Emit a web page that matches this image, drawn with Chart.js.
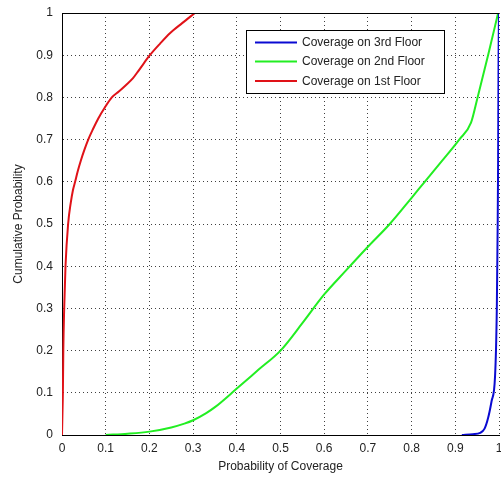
<!DOCTYPE html>
<html>
<head>
<meta charset="utf-8">
<script src="https://cdn.jsdelivr.net/npm/chart.js@4/dist/chart.umd.min.js"></script>
<style>
html,body{margin:0;padding:0;background:#fff;overflow:hidden;}
#wrap{width:501px;height:478px;position:relative;}
</style>
</head>
<body>
<div id="wrap"><canvas id="c" width="501" height="478"></canvas></div>
<script>
// Series data (x = probability of coverage, y = cumulative probability)
const seriesLabels = ['Coverage on 3rd Floor', 'Coverage on 2nd Floor', 'Coverage on 1st Floor'];

const floor3X = [0.915, 0.94, 0.957, 0.967, 0.975, 0.983, 0.991, 0.995, 0.997, 0.998, 0.999, 1.0];
const floor3Y = [0, 0.002, 0.005, 0.015, 0.04, 0.08, 0.14, 0.3, 0.5, 0.65, 0.9, 1.0];

const floor2X = [0.1, 0.15, 0.2, 0.25, 0.28, 0.3, 0.33, 0.35, 0.4, 0.45, 0.5, 0.55, 0.6, 0.65, 0.7, 0.75, 0.8, 0.83, 0.87, 0.909, 0.936, 0.951, 0.975, 0.998];
const floor2Y = [0, 0.003, 0.008, 0.018, 0.027, 0.035, 0.052, 0.066, 0.11, 0.155, 0.2, 0.265, 0.333, 0.39, 0.446, 0.5, 0.562, 0.6, 0.65, 0.7, 0.74, 0.8, 0.9, 1.0];

const floor1X = [0, 0.001, 0.002, 0.003, 0.005, 0.008, 0.014, 0.02, 0.025, 0.03, 0.036, 0.043, 0.051, 0.06, 0.071, 0.083, 0.098, 0.114, 0.13, 0.146, 0.162, 0.175, 0.188, 0.201, 0.224, 0.247, 0.275, 0.304];
const floor1Y = [0, 0.05, 0.1, 0.2, 0.3, 0.4, 0.5, 0.55, 0.58, 0.6, 0.625, 0.65, 0.675, 0.7, 0.725, 0.75, 0.776, 0.8, 0.814, 0.829, 0.845, 0.863, 0.882, 0.9, 0.927, 0.952, 0.976, 1.0];

const xTickValues = [0, 0.1, 0.2, 0.3, 0.4, 0.5, 0.6, 0.7, 0.8, 0.9, 1];
const xTickLabels = ['0', '0.1', '0.2', '0.3', '0.4', '0.5', '0.6', '0.7', '0.8', '0.9', '1'];
const yTickValues = [0, 0.1, 0.2, 0.3, 0.4, 0.5, 0.6, 0.7, 0.8, 0.9, 1];
const yTickLabels = ['0', '0.1', '0.2', '0.3', '0.4', '0.5', '0.6', '0.7', '0.8', '0.9', '1'];

const colors = ['#0a0ad2', '#22ee22', '#e01218'];

function pts(xs, ys) { return xs.map((x, i) => ({x: x, y: ys[i]})); }

const FONT = "'Liberation Sans', Arial, sans-serif";
const TXT = '#222';

const frameAndLegend = {
  id: 'frameAndLegend',
  afterDatasetsDraw(chart) {
    const ctx = chart.ctx, ca = chart.chartArea;
    ctx.save();
    ctx.strokeStyle = '#000';
    ctx.lineWidth = 1;
    ctx.beginPath();
    ctx.moveTo(ca.left, ca.top + 0.5);
    ctx.lineTo(ca.right, ca.top + 0.5);
    ctx.stroke();
    // legend
    const L = ca.left + 184, T = ca.top + 17, W = 198, H = 63;
    ctx.fillStyle = '#fff';
    ctx.fillRect(L, T, W, H);
    ctx.strokeRect(L + 0.5, T + 0.5, W, H);
    ctx.font = '12px ' + FONT;
    ctx.textBaseline = 'middle';
    ctx.textAlign = 'left';
    const rows = [12.5, 31.5, 51];
    chart.data.datasets.forEach((ds, i) => {
      const y = T + rows[i];
      ctx.strokeStyle = ds.borderColor;
      ctx.lineWidth = 2;
      ctx.beginPath();
      ctx.moveTo(L + 9, y);
      ctx.lineTo(L + 51, y);
      ctx.stroke();
      ctx.fillStyle = TXT;
      ctx.fillText(ds.label, L + 56, y + 0.5);
    });
    ctx.restore();
  }
};

new Chart(document.getElementById('c'), {
  type: 'line',
  data: {
    datasets: [
      {label: seriesLabels[0], data: pts(floor3X, floor3Y), borderColor: colors[0]},
      {label: seriesLabels[1], data: pts(floor2X, floor2Y), borderColor: colors[1]},
      {label: seriesLabels[2], data: pts(floor1X, floor1Y), borderColor: colors[2]}
    ].map(d => Object.assign(d, {borderWidth: 2, pointRadius: 0, cubicInterpolationMode: 'monotone', fill: false}))
  },
  options: {
    responsive: false,
    animation: false,
    layout: {padding: {top: 13, right: 0, left: 0, bottom: 0}},
    plugins: {legend: {display: false}, tooltip: {enabled: false}},
    scales: {
      x: {
        type: 'linear', min: 0, max: 1,
        afterBuildTicks(s) { s.ticks = xTickValues.map(v => ({value: v})); },
        ticks: {
          callback: (v, i) => xTickLabels[i],
          font: {family: FONT, size: 12}, color: TXT, padding: 6, maxRotation: 0
        },
        grid: {color: 'rgba(0,0,0,0.75)', lineWidth: 1, drawTicks: false},
        border: {display: true, color: '#000', width: 1, dash: [1, 3]},
        title: {display: true, text: 'Probability of Coverage', font: {family: FONT, size: 12}, color: TXT, padding: {top: 2, bottom: 4}},
        afterFit(s) { s.height = 43; s.paddingRight = 2; }
      },
      y: {
        type: 'linear', min: 0, max: 1,
        afterBuildTicks(s) { s.ticks = yTickValues.map(v => ({value: v})); },
        ticks: {
          callback: (v, i) => yTickLabels[i],
          font: {family: FONT, size: 12}, color: TXT, padding: 9
        },
        grid: {color: 'rgba(0,0,0,0.75)', lineWidth: 1, drawTicks: false},
        border: {display: true, color: '#000', width: 1, dash: [1, 3]},
        title: {display: true, text: 'Cumulative Probability', font: {family: FONT, size: 12}, color: TXT, padding: {top: 11, bottom: 0}},
        afterFit(s) { s.width = 62; s.paddingTop = 7; s.paddingBottom = 7; }
      }
    }
  },
  plugins: [frameAndLegend]
});
</script>
</body>
</html>
